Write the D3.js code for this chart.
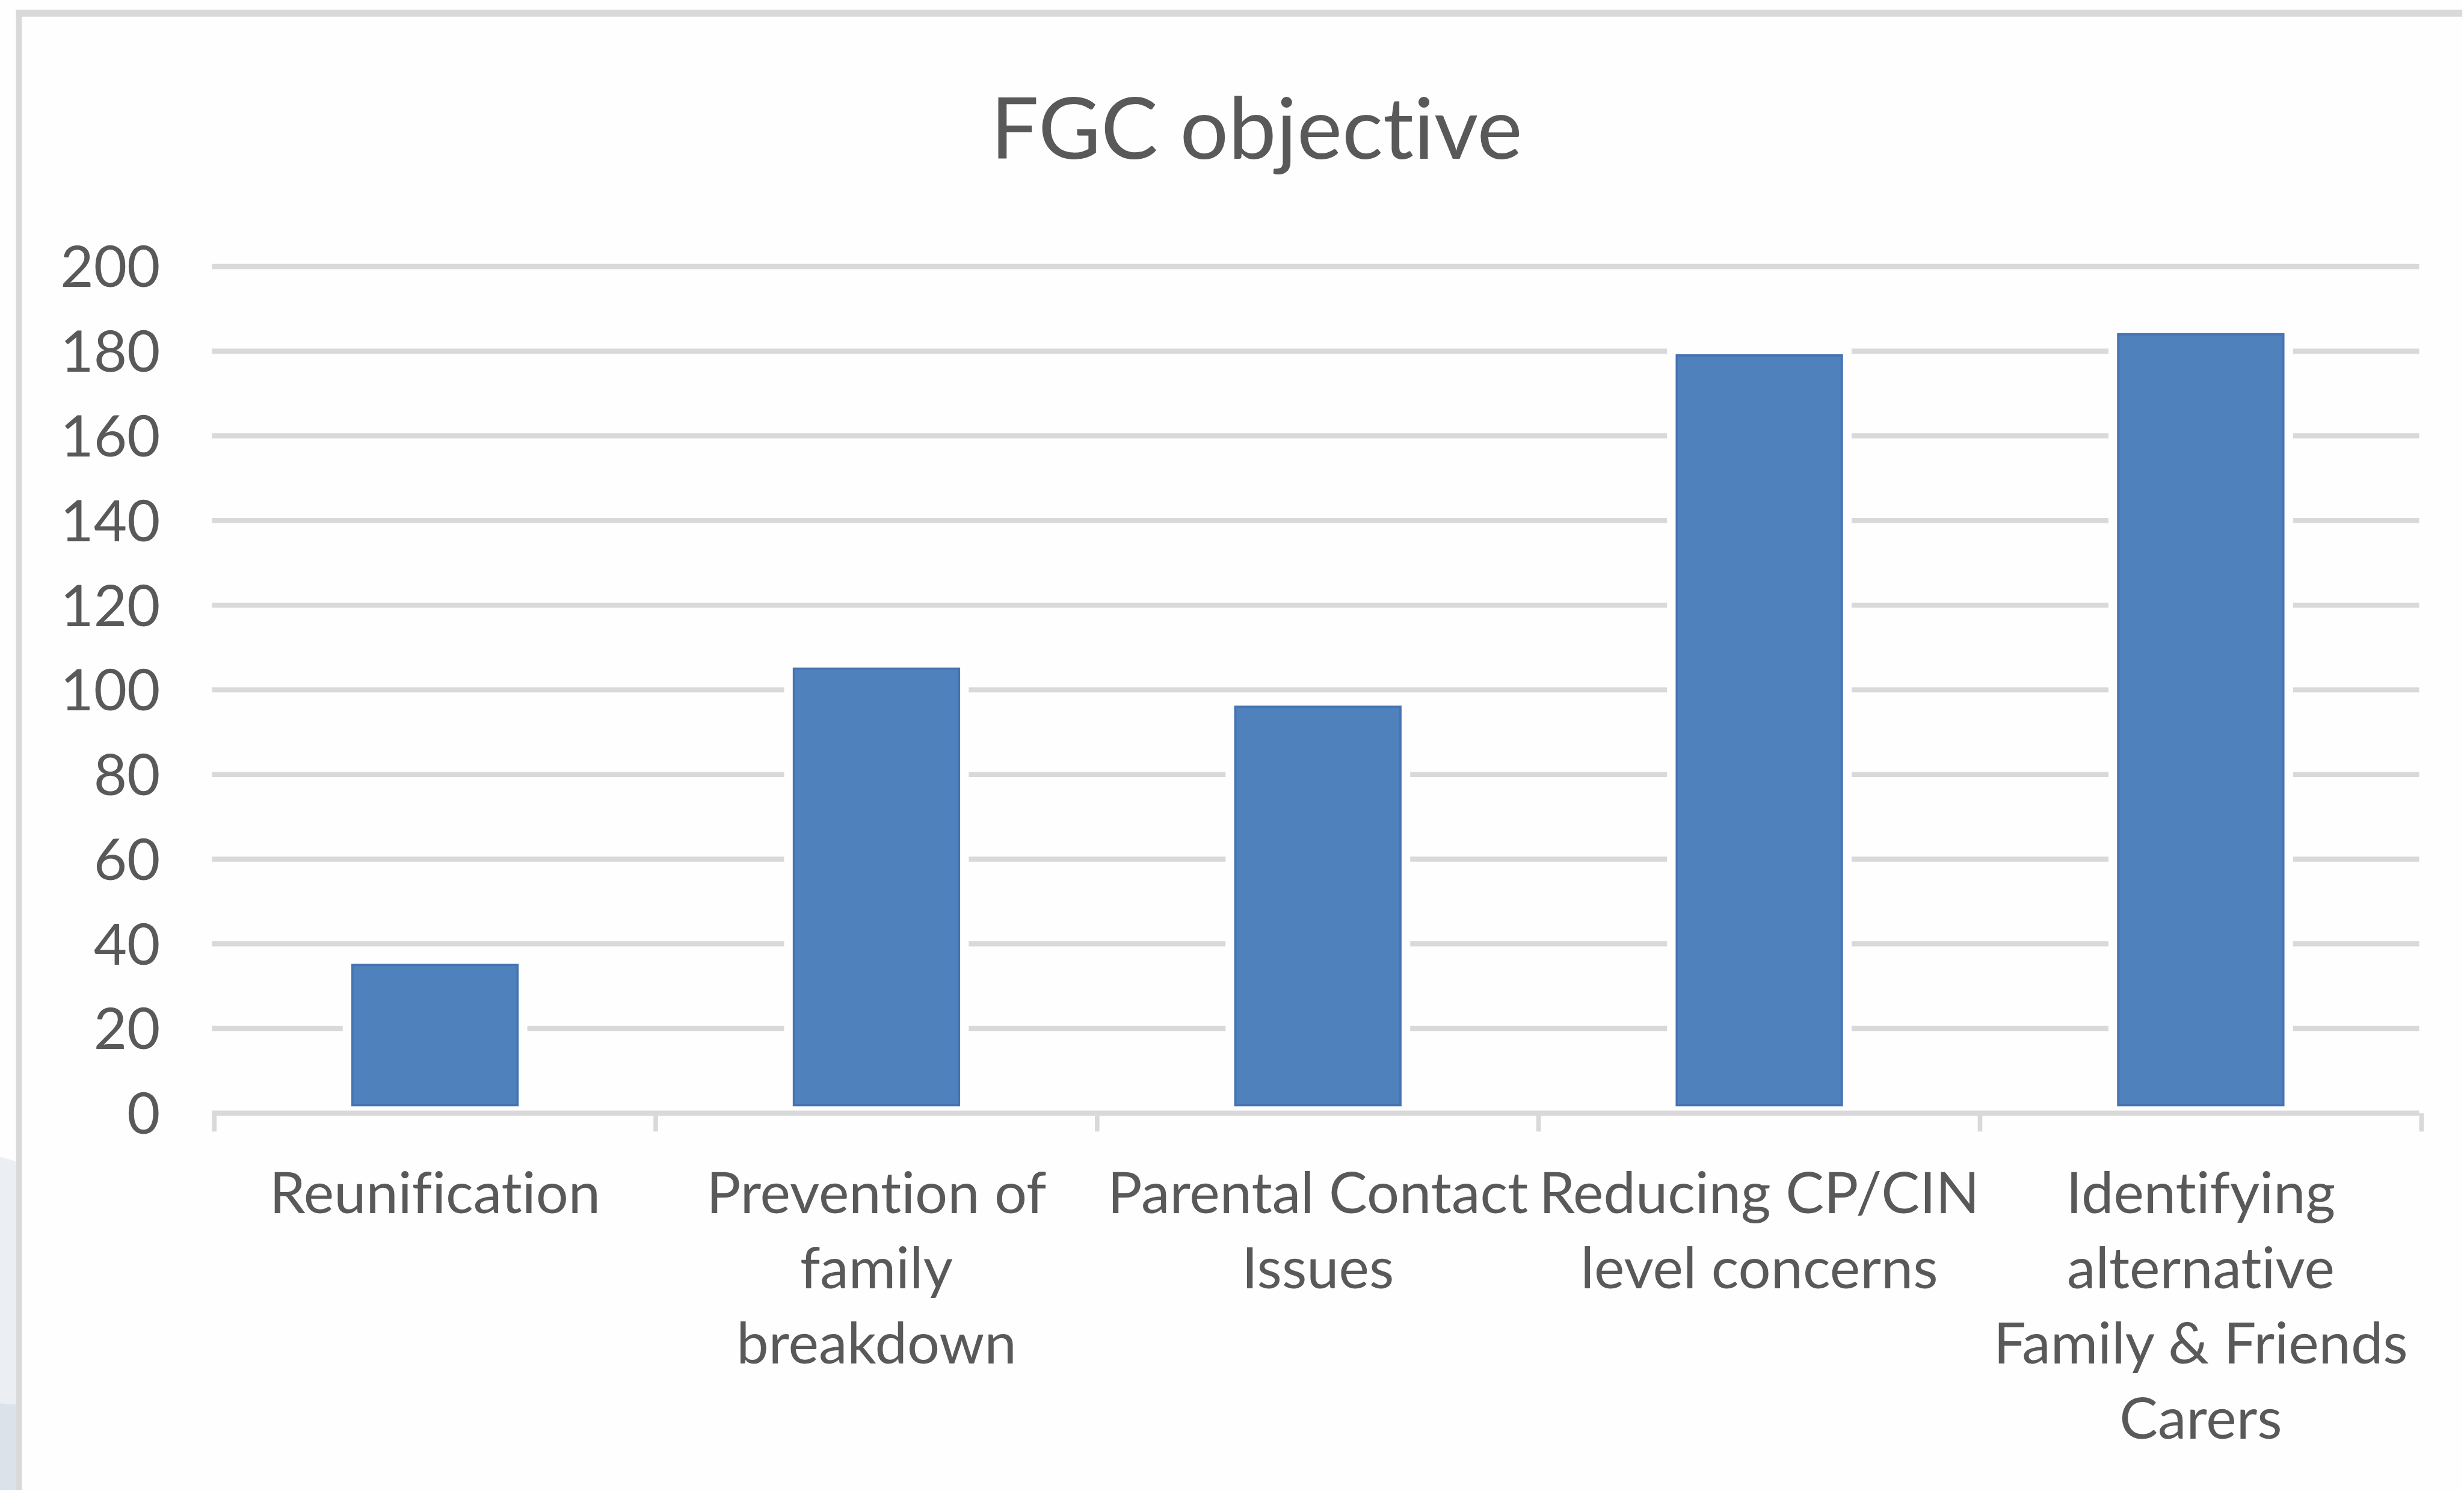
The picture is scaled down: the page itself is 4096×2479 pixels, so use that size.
<!DOCTYPE html>
<html>
<head>
<meta charset="utf-8">
<script src="https://cdn.jsdelivr.net/npm/d3@7"></script>
<style>
  html, body { margin: 0; padding: 0; background: #fff; overflow: hidden; }
  svg { display: block; }
  text { font-variant-ligatures: none; font-feature-settings: "liga" 0, "dlig" 0; }
</style>
</head>
<body>
<svg></svg>
<script>
// Data
var categories = [
  "Reunification",
  "Prevention of family breakdown",
  "Parental Contact Issues",
  "Reducing CP/CIN level concerns",
  "Identifying alternative Family & Friends Carers"
];
var labelLines = [
  ["Reunification"],
  ["Prevention of", "family", "breakdown"],
  ["Parental Contact", "Issues"],
  ["Reducing CP/CIN", "level concerns"],
  ["Identifying", "alternative", "Family & Friends", "Carers"]
];
var values = [35, 105, 96, 179, 184];
var yTicks = [0, 20, 40, 60, 80, 100, 120, 140, 160, 180, 200];
var title = "FGC objective";

// everything is laid out in reference pixels, then shrunk to the window
var W = 4286, H = 2594, k = 0.955;
var textColor = "#595959";
var gridColor = "#d9d9d9";
var font = "Lato, 'Open Sans', sans-serif";
var left = 369, right = 4211;

var svg = d3.select("svg").attr("width", 4096).attr("height", 2479);
var root = svg.append("g").attr("transform", "scale(" + k + ")");

root.append("rect").attr("width", W).attr("height", H).attr("fill", "#fefefe");

// bluish strip peeking in at the lower left edge
root.append("path").attr("d", "M0,2014 L28,2022 L28,2445 L0,2443 Z").attr("fill", "#ebeff4");
root.append("path").attr("d", "M0,2443 L28,2445 L28,2594 L0,2594 Z").attr("fill", "#dce2ea");

// chart area border (top and left only, rest is cropped)
root.append("line").attr("x1", 28).attr("x2", W).attr("y1", 23).attr("y2", 23)
  .attr("stroke", gridColor).attr("stroke-width", 12);
root.append("line").attr("x1", 33).attr("x2", 33).attr("y1", 17).attr("y2", H)
  .attr("stroke", gridColor).attr("stroke-width", 10);

// scales
var x = d3.scaleBand().domain(categories).range([left + 4, right + 4]).paddingInner(0.626).paddingOuter(0.313);
var y = d3.scaleLinear().domain([0, 200]).range([1938, 464]);

// gridlines
root.append("g")
  .selectAll("line")
  .data(yTicks.slice(1))
  .enter()
  .append("line")
  .attr("x1", left)
  .attr("x2", right)
  .attr("y1", function (d) { return y(d); })
  .attr("y2", function (d) { return y(d); })
  .attr("stroke", gridColor)
  .attr("stroke-width", 9);

// y tick labels
root.append("g")
  .selectAll("text")
  .data(yTicks)
  .enter()
  .append("text")
  .attr("x", 279)
  .attr("y", function (d) { return y(d); })
  .attr("dy", "0.36em")
  .attr("text-anchor", "end")
  .attr("font-family", font)
  .attr("font-size", 100)
  .attr("fill", textColor)
  .text(function (d) { return d; });

// white halo so gridlines break around each bar
root.append("g")
  .selectAll("rect")
  .data(values)
  .enter()
  .append("rect")
  .attr("x", function (d, i) { return x(categories[i]) - 17; })
  .attr("y", function (d) { return y(d) - 17; })
  .attr("width", x.bandwidth() + 34)
  .attr("height", function (d) { return y(0) - y(d) + 11; })
  .attr("fill", "#fefefe");

// bars
root.append("g")
  .selectAll("rect")
  .data(values)
  .enter()
  .append("rect")
  .attr("x", function (d, i) { return x(categories[i]); })
  .attr("y", function (d) { return y(d); })
  .attr("width", x.bandwidth())
  .attr("height", function (d) { return y(0) - y(d) - 14; })
  .attr("fill", "#4f81bd")
  .attr("stroke", "#4674b2")
  .attr("stroke-width", 4);

// category axis
var xAxis = root.append("g").attr("transform", "translate(0," + y(0) + ")");
xAxis.append("line").attr("x1", left).attr("x2", right)
  .attr("stroke", gridColor).attr("stroke-width", 9);
xAxis.selectAll(".tick")
  .data(d3.range(categories.length + 1))
  .enter()
  .append("line")
  .attr("x1", function (i) { return left + 4 + i * x.step(); })
  .attr("x2", function (i) { return left + 4 + i * x.step(); })
  .attr("y1", 0)
  .attr("y2", 32)
  .attr("stroke", gridColor)
  .attr("stroke-width", 8);

// category labels, wrapped as in the original
xAxis.selectAll(".lbl")
  .data(categories)
  .enter()
  .append("text")
  .attr("class", "lbl")
  .attr("text-anchor", "middle")
  .attr("font-family", font)
  .attr("font-size", 100)
  .attr("fill", textColor)
  .each(function (c, i) {
    var t = d3.select(this);
    labelLines[i].forEach(function (line, j) {
      t.append("tspan")
        .attr("x", x(c) + x.bandwidth() / 2)
        .attr("y", 174 + j * 131)
        .text(line);
    });
  });

// title
root.append("text")
  .attr("x", 2187)
  .attr("y", 276)
  .attr("text-anchor", "middle")
  .attr("font-family", font)
  .attr("font-size", 149)
  .attr("fill", textColor)
  .text(title);
</script>
</body>
</html>
